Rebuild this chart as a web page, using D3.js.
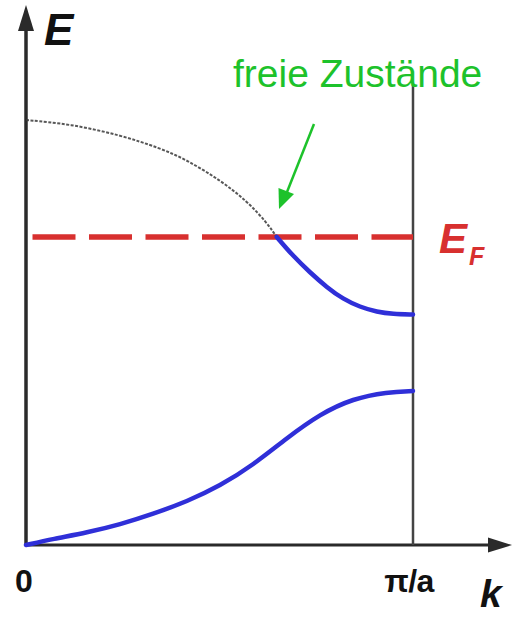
<!DOCTYPE html>
<html>
<head>
<meta charset="utf-8">
<script src="https://cdn.jsdelivr.net/npm/d3@7"></script>
<style>
  html, body { margin: 0; padding: 0; background: #fff; }
  svg { display: block; }
  text { font-family: "Liberation Sans", Arial, sans-serif; }
</style>
</head>
<body>
<svg id="chart" width="516" height="617"></svg>
<script>
// Band structure E(k) in the first Brillouin zone, k in units of π/a
const upperFreeK = [0, 0.114, 0.243, 0.346, 0.416, 0.501, 0.571, 0.623, 0.648];
const upperFreeE = [8.5, 8.42, 8.2, 7.94, 7.7, 7.3, 6.88, 6.44, 6.16];

const upperFilledK = [0.648, 0.690, 0.734, 0.778, 0.819, 0.863, 0.907, 0.948, 1.0];
const upperFilledE = [6.16, 5.78, 5.45, 5.15, 4.92, 4.76, 4.66, 4.62, 4.61];

const lowerK = [0, 0.070, 0.158, 0.243, 0.328, 0.416, 0.501, 0.587, 0.674, 0.760, 0.845, 0.933, 1.0];
const lowerE = [0.0, 0.12, 0.25, 0.41, 0.62, 0.87, 1.18, 1.60, 2.14, 2.62, 2.93, 3.06, 3.08];

const fermiE = 6.16;
const zoneEdgeK = 1.0;
const xTickLabels = ["0", "π/a"];
const annotation = "freie Zustände";

const svg = d3.select("#chart");

const x = d3.scaleLinear().domain([0, 1]).range([26, 413]);
const y = d3.scaleLinear().domain([0, 10]).range([545, 45]);

const zip = (ks, es) => ks.map((k, i) => ({ k, e: es[i] }));
const line = d3.line().x(d => x(d.k)).y(d => y(d.e)).curve(d3.curveBasis);

// Axes with arrowheads
const axisColor = "#2a2a2a";
const x0 = x(0), y0 = y(0);
svg.append("line").attr("x1", x0).attr("y1", y0 + 1).attr("x2", x0).attr("y2", 24)
  .attr("stroke", axisColor).attr("stroke-width", 3.5);
svg.append("path").attr("d", `M${x0},5 L${x0 - 8},31 L${x0 + 8},31 Z`).attr("fill", axisColor);

svg.append("line").attr("x1", x0).attr("y1", y0).attr("x2", 494).attr("y2", y0)
  .attr("stroke", axisColor).attr("stroke-width", 3);
svg.append("path").attr("d", `M512,${y0} L488,${y0 - 7.5} L488,${y0 + 7.5} Z`).attr("fill", axisColor);

// Zone boundary at k = π/a
svg.append("line")
  .attr("x1", x(zoneEdgeK)).attr("x2", x(zoneEdgeK))
  .attr("y1", 85).attr("y2", y0)
  .attr("stroke", "#444").attr("stroke-width", 2.5);

// Fermi level
svg.append("line")
  .attr("x1", 32.5).attr("x2", x(zoneEdgeK))
  .attr("y1", y(fermiE)).attr("y2", y(fermiE))
  .attr("stroke", "#d8302f").attr("stroke-width", 5.5)
  .attr("stroke-dasharray", "43,13.5");

// Unoccupied part of the upper band
svg.append("path")
  .attr("d", line(zip(upperFreeK, upperFreeE)))
  .attr("fill", "none").attr("stroke", "#3a3a3a").attr("stroke-width", 2)
  .attr("stroke-dasharray", "3,1.5").attr("opacity", 0.85);

// Occupied bands
svg.append("path")
  .attr("d", line(zip(upperFilledK, upperFilledE)))
  .attr("fill", "none").attr("stroke", "#2f2fd8").attr("stroke-width", 4.5)
  .attr("stroke-linecap", "round");

svg.append("path")
  .attr("d", line(zip(lowerK, lowerE)))
  .attr("fill", "none").attr("stroke", "#2f2fd8").attr("stroke-width", 4.5)
  .attr("stroke-linecap", "round");

// Axis labels
svg.append("text").attr("x", 44).attr("y", 45)
  .attr("font-size", 44).attr("font-weight", "bold").attr("font-style", "italic")
  .attr("fill", "#111").text("E");

svg.append("text").attr("x", 480).attr("y", 607)
  .attr("font-size", 39).attr("font-weight", "bold").attr("font-style", "italic")
  .attr("fill", "#111").text("k");

svg.append("text").attr("x", x(0) - 2).attr("y", 592)
  .attr("text-anchor", "middle")
  .attr("font-size", 32).attr("font-weight", "bold")
  .attr("fill", "#111").text(xTickLabels[0]);

svg.append("text").attr("x", x(zoneEdgeK) - 4).attr("y", 592)
  .attr("text-anchor", "middle")
  .attr("font-size", 32).attr("font-weight", "bold")
  .attr("fill", "#111").attr("letter-spacing", -0.5).text(xTickLabels[1]);

// Fermi energy label
const ef = svg.append("text").attr("x", 439).attr("y", 253)
  .attr("font-size", 42).attr("font-weight", "bold").attr("font-style", "italic")
  .attr("fill", "#d8302f");
ef.append("tspan").text("E");
ef.append("tspan").attr("dy", 12).attr("dx", 2).attr("font-size", 25).text("F");

// Annotation with arrow
const green = "#1dc22b";
svg.append("text").attr("x", 233).attr("y", 87)
  .attr("font-size", 39).attr("fill", green).text(annotation);

svg.append("line").attr("x1", 314).attr("y1", 124).attr("x2", 287).attr("y2", 192)
  .attr("stroke", green).attr("stroke-width", 2.5);
svg.append("path").attr("d", "M279,209 L278.5,188 L294,194 Z").attr("fill", green);
</script>
</body>
</html>
